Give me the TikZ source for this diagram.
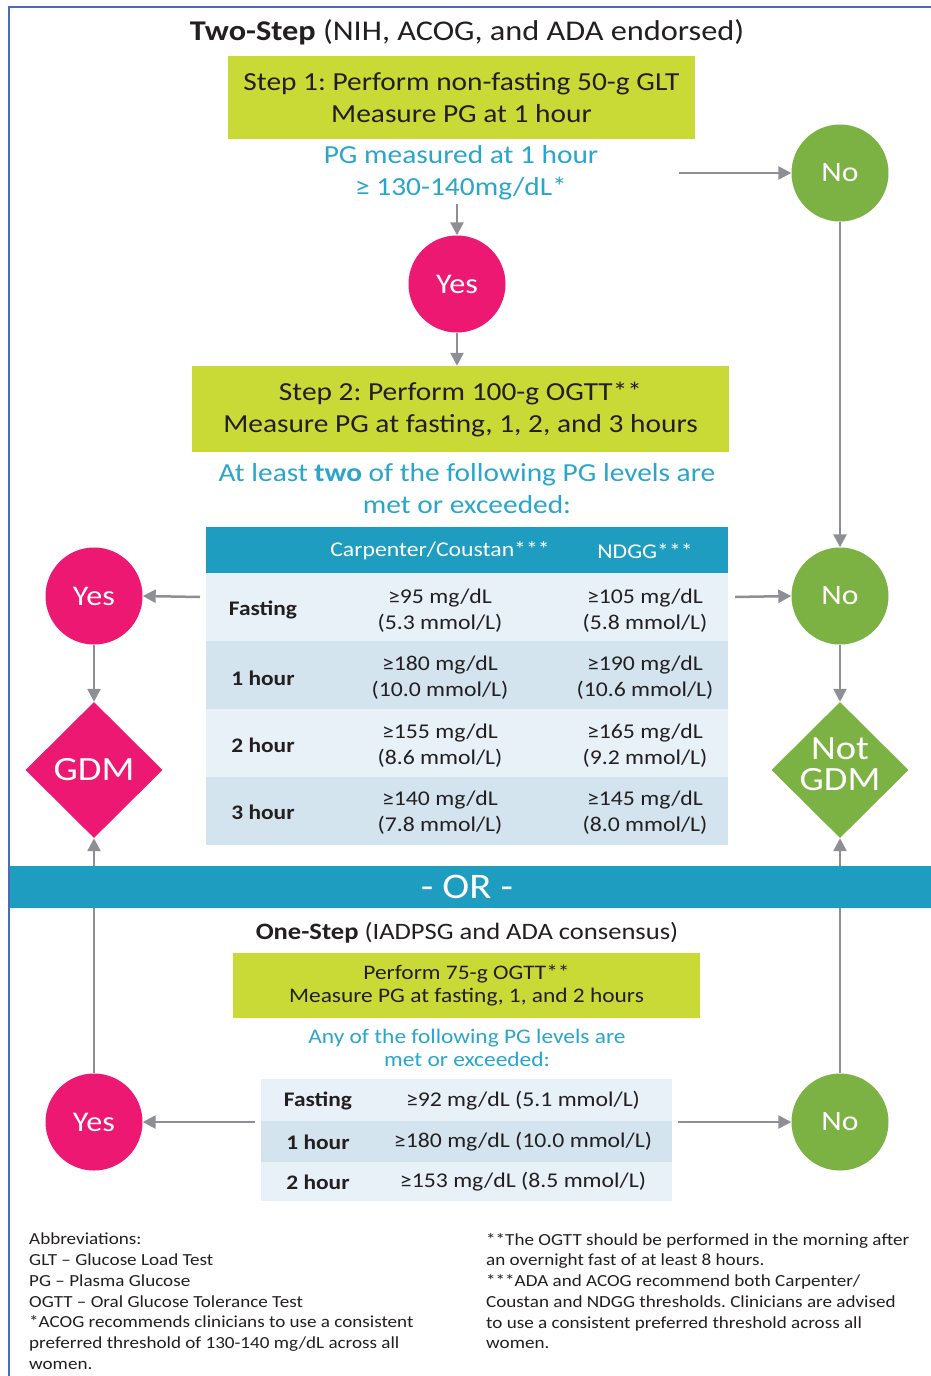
\documentclass[tikz,border=0pt]{standalone}
\usepackage{fontspec}
\setmainfont{Carlito}[FakeStretch=1.13]
\usetikzlibrary{arrows.meta,shapes.geometric}
\definecolor{pinkc}{HTML}{EC1871}
\definecolor{greenc}{HTML}{7BB243}
\definecolor{limec}{HTML}{C9D935}
\definecolor{tealc}{HTML}{1E9DC0}
\definecolor{cyantxt}{HTML}{2AA5CB}
\definecolor{rowa}{HTML}{E7F1F7}
\definecolor{rowb}{HTML}{D3E4EF}
\definecolor{arrc}{HTML}{8D8F94}
\definecolor{framec}{HTML}{4A6CB8}
\definecolor{txt}{HTML}{231F20}
\newcommand\fsz[2]{\fontsize{#1}{#2}\selectfont}
\frenchspacing
\begin{document}
\begin{tikzpicture}[x=1pt,y=-1pt,
  yesc/.style={circle,fill=pinkc,minimum size=97pt,inner sep=0pt,text=white,font=\fsz{28.5}{30}},
  noc/.style={circle,fill=greenc,minimum size=97pt,inner sep=0pt,text=white,font=\fsz{28}{30}},
  dia/.style={diamond,minimum width=137pt,minimum height=136pt,inner sep=0pt,text=white,align=center,font=\fsz{34}{34}},
  arr/.style={draw=arrc,line width=2.5pt,-{Triangle[length=13pt,width=13pt]}},
  lbox/.style={fill=limec,inner sep=0pt,text=txt,align=center},
  cyt/.style={text=cyantxt,align=center,inner sep=0pt},
  hd/.style={text=txt,align=center,inner sep=0pt},
  cell/.style={text=txt,align=center,inner sep=0pt,font=\fsz{21}{26}},
  rlab/.style={text=txt,inner sep=0pt,font=\bfseries\fsz{20.7}{26}},
  hcell/.style={text=white,inner sep=0pt,font=\fsz{21}{26}},
  foot/.style={text=txt,align=left,inner sep=0pt,font=\fsz{16.9}{20.75},anchor=north west}
]
\useasboundingbox (0,0) rectangle (931,1376);
\fill[white] (0,0) rectangle (931,1376);
\draw[framec,line width=2pt] (9,1376) -- (9,7) -- (931,7);

% titles and boxes
\node[hd,font=\fsz{28.6}{32}] (title) at (467,32) {\textbf{Two-Step} (NIH, ACOG, and ADA endorsed)};
\node[lbox,minimum width=467pt,minimum height=83pt,font=\fsz{26}{32}] (step1) at (461.5,97.5) {Step 1: Perform non-fasting 50-g GLT\\Measure PG at 1 hour};
\node[cyt,font=\fsz{26}{32}] (q1) at (461,173) {PG measured at 1 hour\\≥ 130-140mg/dL*};
\node[lbox,minimum width=537pt,minimum height=86pt,font=\fsz{26}{32}] (step2) at (460.5,409) {Step 2: Perform 100-g OGTT**\\Measure PG at fasting, 1, 2, and 3 hours};
\node[cyt,font=\fsz{26}{32}] (q2) at (467,489) {At least \textbf{two} of the following PG levels are\\met or exceeded:};

% circles and diamonds
\node[yesc] (yes1) at (457,284) {Yes};
\node[noc] (no1) at (840,173) {No};
\node[yesc] (yes2) at (94,596) {Yes};
\node[noc] (no2) at (840,596) {No};
\node[yesc] (yes3) at (94,1122) {Yes};
\node[noc] (no3) at (840,1122) {No};
\node[dia,fill=pinkc] (gdm) at (94,770) {GDM};
\node[dia,fill=greenc] (notgdm) at (840,770) {\smash{\raisebox{-4pt}{\begin{tabular}{@{}c@{}}Not\\[-3pt]GDM\end{tabular}}}};

% table 1
\fill[tealc] (206,527) rectangle (728,573);
\fill[rowa] (206,573) rectangle (728,641);
\fill[rowb] (206,641) rectangle (728,709);
\fill[rowa] (206,709) rectangle (728,777);
\fill[rowb] (206,777) rectangle (728,845);
\node[hcell] (h1) at (440,551) {Carpenter/Coustan***};
\node[hcell] (h2) at (645,551) {NDGG***};
\node[rlab] (r1) at (263,610) {Fasting};
\node[rlab] (r2) at (263,678) {1 hour};
\node[rlab] (r3) at (263,745) {2 hour};
\node[rlab] (r4) at (263,812) {3 hour};
\node[cell] (c11) at (440,611) {≥95 mg/dL\\(5.3 mmol/L)};
\node[cell] (c12) at (645,611) {≥105 mg/dL\\(5.8 mmol/L)};
\node[cell] (c21) at (440,678) {≥180 mg/dL\\(10.0 mmol/L)};
\node[cell] (c22) at (645,678) {≥190 mg/dL\\(10.6 mmol/L)};
\node[cell] (c31) at (440,746) {≥155 mg/dL\\(8.6 mmol/L)};
\node[cell] (c32) at (645,746) {≥165 mg/dL\\(9.2 mmol/L)};
\node[cell] (c41) at (440,813) {≥140 mg/dL\\(7.8 mmol/L)};
\node[cell] (c42) at (645,813) {≥145 mg/dL\\(8.0 mmol/L)};

% connectors (upper)
\coordinate (q1r) at (679,173);
\coordinate (t1l) at (200,597);
\coordinate (t1r) at (735,597);
\draw[arr] (yes1.north |- 0,204) -- (yes1.north);
\draw[arr] (q1r) -- (no1.west);
\draw[arr] (no1.south) -- (no2.north);
\draw[arr] (yes1.south) -- (yes1.south |- step2.north);
\draw[arr] (t1l) -- (yes2.east);
\draw[arr] (t1r) -- (no2.west);
\draw[arr] (yes2.south) -- (gdm.north);
\draw[arr] (no2.south) -- (notgdm.north);
\draw[arr] (yes3.north) -- (gdm.south);
\draw[arr] (no3.north) -- (notgdm.south);

% OR band
\fill[tealc] (10,866) rectangle (931,908);
\node[text=white,inner sep=0pt,font=\fsz{36}{36}] (or) at (467,887) {- OR -};

% one step
\node[hd,font=\fsz{23.5}{28}] (title2) at (467,933) {\textbf{One-Step} (IADPSG and ADA consensus)};
\node[lbox,minimum width=467pt,minimum height=65pt,font=\fsz{20.7}{23.5}] (step3) at (466.5,985.5) {Perform 75-g OGTT**\\Measure PG at fasting, 1, and 2 hours};
\node[cyt,font=\fsz{20.7}{23.5}] (q3) at (467,1048) {Any of the following PG levels are\\met or exceeded:};

% table 2
\fill[rowa] (261,1079) rectangle (672,1121);
\fill[rowb] (261,1121) rectangle (672,1162);
\fill[rowa] (261,1162) rectangle (672,1201);
\node[rlab] (s1) at (318,1101) {Fasting};
\node[rlab] (s2) at (318,1142) {1 hour};
\node[rlab] (s3) at (318,1182) {2 hour};
\node[cell] (d1) at (523,1101) {≥92 mg/dL (5.1 mmol/L)};
\node[cell] (d2) at (523,1142) {≥180 mg/dL (10.0 mmol/L)};
\node[cell] (d3) at (523,1182) {≥153 mg/dL (8.5 mmol/L)};
\coordinate (t2l) at (255,1122);
\coordinate (t2r) at (678,1122);
\draw[arr] (t2l) -- (yes3.east);
\draw[arr] (t2r) -- (no3.west);

% footnotes
\node[foot] (fl) at (29,1233) {Abbreviations:\\GLT – Glucose Load Test\\PG – Plasma Glucose\\OGTT – Oral Glucose Tolerance Test\\*ACOG recommends clinicians to use a consistent\\preferred threshold of 130-140 mg/dL across all\\women.};
\node[foot] (fr) at (486,1233) {**The OGTT should be performed in the morning after\\an overnight fast of at least 8 hours.\\***ADA and ACOG recommend both Carpenter/\\Coustan and NDGG thresholds. Clinicians are advised\\to use a consistent preferred threshold across all\\women.};
\end{tikzpicture}
\end{document}
